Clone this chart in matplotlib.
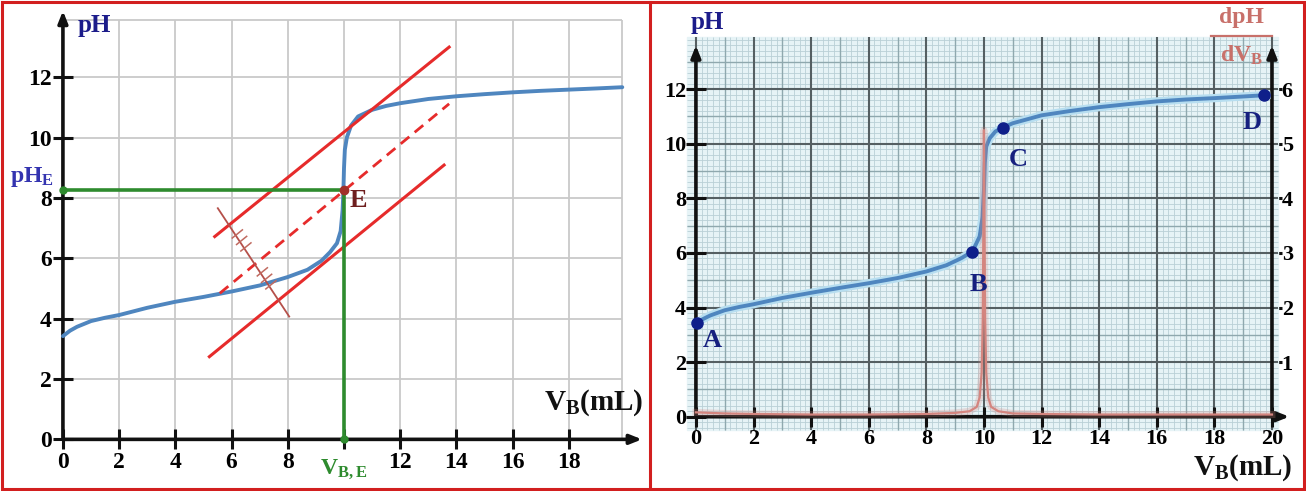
import numpy as np
import matplotlib
matplotlib.use('Agg')
import matplotlib.pyplot as plt
import matplotlib.patheffects as pe
from matplotlib.patches import Rectangle
from matplotlib.lines import Line2D

plt.rcParams['font.family'] = 'Liberation Serif'
plt.rcParams['font.weight'] = 'bold'
plt.rcParams['mathtext.fontset'] = 'custom'
plt.rcParams['mathtext.rm'] = 'Liberation Serif:bold'
plt.rcParams['mathtext.bf'] = 'Liberation Serif:bold'
plt.rcParams['mathtext.it'] = 'Liberation Serif:bold'

# ---- left panel : parallel tangents method ----
vb_left = [0, 0.25, 0.5, 1, 1.5, 2, 3, 4, 5, 6, 7, 8, 8.7, 9.2, 9.5, 9.75,
           9.88, 9.95, 9.98, 10.0, 10.03, 10.1, 10.25, 10.5, 11, 11.5, 12, 13,
           14, 15, 16, 17, 18, 19, 19.9]
ph_left = [3.42, 3.6, 3.73, 3.92, 4.03, 4.12, 4.36, 4.56, 4.72, 4.9, 5.1,
           5.38, 5.62, 5.92, 6.2, 6.5, 6.9, 7.6, 8.3, 9.0, 9.6, 10.0, 10.4,
           10.7, 10.92, 11.05, 11.14, 11.28, 11.37, 11.44, 11.5, 11.55, 11.59,
           11.63, 11.67]

# tangent lines (start / end points read on the picture)
tan_up_x, tan_up_y = [5.4, 13.74], [6.72, 13.0]
tan_mid_x, tan_mid_y = [5.58, 13.74], [4.84, 11.12]
tan_low_x, tan_low_y = [5.21, 13.56], [2.74, 9.09]
perp_x, perp_y = [5.51, 8.05], [7.66, 4.07]
hatch_t = [0.25, 0.31, 0.37, 0.6, 0.66, 0.72]   # equal-length marks on the perpendicular

vb_E, ph_E = 10.0, 8.25

# ---- right panel : curve and derivative ----
vb_right = [0, 0.25, 0.5, 1, 1.5, 2, 3, 4, 5, 6, 7, 8, 8.7, 9.2, 9.6, 9.85,
            9.95, 10.0, 10.03, 10.08, 10.2, 10.4, 10.67, 11, 12, 13, 14, 15,
            16, 17, 18, 19, 19.8]
ph_right = [3.42, 3.58, 3.71, 3.9, 4.02, 4.12, 4.35, 4.54, 4.72, 4.89, 5.08,
            5.32, 5.55, 5.8, 6.05, 6.6, 7.3, 8.3, 9.3, 9.9, 10.2, 10.45, 10.6,
            10.75, 11.04, 11.2, 11.34, 11.45, 11.55, 11.62, 11.67, 11.73, 11.78]

vb_deriv = [0, 1, 2, 4, 6, 8, 9, 9.5, 9.75, 9.85, 9.92, 9.96, 9.98, 10.0,
            10.02, 10.04, 10.08, 10.15, 10.25, 10.5, 11, 12, 14, 16, 18, 20]
dph_dv = [0.08, 0.06, 0.05, 0.04, 0.04, 0.05, 0.07, 0.1, 0.18, 0.35, 0.8,
          1.8, 3.5, 5.25, 3.5, 1.8, 0.8, 0.35, 0.18, 0.1, 0.06, 0.05, 0.04,
          0.04, 0.04, 0.04]

pt_labels = ['A', 'B', 'C', 'D']
pt_vb = [0.03, 9.58, 10.67, 19.74]
pt_ph = [3.42, 6.05, 10.57, 11.78]

xticks = np.arange(0, 19, 2)
xticks_r = np.arange(0, 21, 2)
yticks = np.arange(0, 13, 2)

RED = '#e62b2b'
GREEN = '#2e8b2e'
NAVY = '#1c1c8a'
BLUE = '#4f86bf'
ROSE = '#d4857f'
ARROW = dict(arrowstyle='-|>,head_length=0.7,head_width=0.28',
             lw=2.6, color='#111111', shrinkA=0, shrinkB=0)

fig = plt.figure(figsize=(13.06, 4.91), dpi=100)


def style_axes(ax, xmax_arrow, ymax_arrow):
    for s in ax.spines.values():
        s.set_visible(False)
    ax.spines['left'].set_position(('data', 0))
    ax.spines['bottom'].set_position(('data', 0))
    ax.tick_params(direction='inout', length=14, width=2.2, color='#111111')
    ax.annotate('', xy=(xmax_arrow, 0), xytext=(0, 0), arrowprops=ARROW)
    ax.annotate('', xy=(0, ymax_arrow), xytext=(0, 0), arrowprops=ARROW)


# ================= left panel =================
ax = fig.add_axes([0.0159, 0.013, 0.4778, 0.9833])
ax.set_xlim(-1.5, 20.7)
ax.set_ylim(-1.5, 14.5)
ax.patch.set_alpha(0)

ax.vlines(np.append(xticks, 19.9), 0, 13.9, color='#c9c9c9', lw=1.3, zorder=1)
ax.hlines(np.append(yticks[1:], 13.9), 0, 19.9, color='#c9c9c9', lw=1.3, zorder=1)

ax.plot(vb_left, ph_left, color=BLUE, lw=2.8, zorder=4,
        solid_capstyle='round')

ax.plot(tan_up_x, tan_up_y, color=RED, lw=2.2, zorder=5)
ax.plot(tan_low_x, tan_low_y, color=RED, lw=2.2, zorder=5)
ax.plot(tan_mid_x, tan_mid_y, color=RED, lw=2.0, ls=(0, (4, 2.5)), zorder=5)
ax.plot(perp_x, perp_y, color='#b5504a', lw=1.3, zorder=5)

# equal segment marks on the perpendicular
dx, dy = perp_x[1] - perp_x[0], perp_y[1] - perp_y[0]
sx, sy = tan_up_x[1] - tan_up_x[0], tan_up_y[1] - tan_up_y[0]
n = np.hypot(sx, sy)
for t in hatch_t:
    cx, cy = perp_x[0] + t * dx, perp_y[0] + t * dy
    ax.plot([cx - 0.15 * sx / n, cx + 0.3 * sx / n],
            [cy - 0.15 * sy / n, cy + 0.3 * sy / n],
            color='#c06a60', lw=1.1, zorder=5)

ax.plot([0, vb_E], [ph_E, ph_E], color=GREEN, lw=2.6, zorder=6)
ax.plot([vb_E, vb_E], [ph_E, 0], color=GREEN, lw=2.6, zorder=6)
ax.plot([0, vb_E], [ph_E, 0], 'o', color=GREEN, ms=5, zorder=7, clip_on=False)
ax.plot(vb_E, ph_E, 'o', color='#a0302a', ms=6, zorder=8)

style_axes(ax, 20.6, 14.2)
ax.set_xticks(xticks_r[:-1])
ax.set_xticklabels([str(v) if v != 10 else '' for v in xticks_r[:-1]])
ax.set_yticks(yticks)
ax.tick_params(axis='both', labelsize=17, pad=2)
ax.tick_params(axis='y', pad=1)

ax.text(1.1, 13.7, 'pH', color=NAVY, fontsize=18, ha='center', va='center')
ax.text(18.9, 1.2, r'$\mathbf{V}_{\mathbf{B}}\mathbf{(mL)}$', fontsize=21,
        ha='center', va='center', color='#111111')
ax.text(-1.1, 8.7, r'$\mathbf{pH}_{\mathbf{E}}$', fontsize=17, color='#3434b0',
        ha='center', va='center')
ax.text(10.0, -1.0, r'$\mathbf{V}_{\mathbf{B,E}}$', fontsize=17, color=GREEN,
        ha='center', va='center')
ax.text(10.5, 7.9, 'E', fontsize=19, color='#6e1e1e', ha='center', va='center',
        zorder=9)

# ================= right panel =================
axr = fig.add_axes([0.5064, 0.0123, 0.4896, 0.9841])
axr.set_xlim(-1.2, 21.0)
axr.set_ylim(-2.5, 15.2)
axr.patch.set_alpha(0)

# right scale (dpH/dVB) : half of the pH scale
ax2 = axr.twinx()
ax2.set_position(axr.get_position())
ax2.set_ylim(-2.5 / 2, 15.2 / 2)
for s in ax2.spines.values():
    s.set_visible(False)
ax2.spines['right'].set_position(('data', 20))
ax2.set_yticks(np.arange(1, 7))
ax2.tick_params(axis='y', direction='inout', length=14, width=2.2,
                labelsize=16, pad=0, color='#111111')
axr.set_zorder(ax2.get_zorder() + 1)

gx0, gx1, gy0, gy1 = -0.3, 20.2, -0.5, 13.9
axr.add_patch(Rectangle((gx0, gy0), gx1 - gx0, gy1 - gy0, color='#e6f3f6',
                        zorder=0))
axr.vlines(np.arange(0, 20.01, 0.2), gy0, gy1, color='#b9d0d6', lw=0.6, zorder=1)
axr.hlines(np.arange(-0.4, 13.81, 0.2), gx0, gx1, color='#b9d0d6', lw=0.6, zorder=1)
axr.vlines(np.arange(1, 20, 2), gy0, gy1, color='#8fa8ae', lw=1.0, zorder=1)
axr.hlines(np.arange(1, 14, 2), gx0, gx1, color='#8fa8ae', lw=1.0, zorder=1)
axr.vlines(xticks_r, gy0, gy1, color='#555f62', lw=1.5, zorder=1)
axr.hlines(yticks, gx0, gx1, color='#555f62', lw=1.5, zorder=1)

axr.plot(vb_right, ph_right, color=BLUE, lw=2.8, zorder=4,
         path_effects=[pe.Stroke(linewidth=6, foreground='#b7def0'), pe.Normal()])

# derivative drawn in the right-scale coordinates, above the pH curve
axr.plot(vb_deriv, dph_dv, color=ROSE, lw=5, alpha=0.25, zorder=5,
         transform=ax2.transData)
axr.plot(vb_deriv, dph_dv, color=ROSE, lw=1.6, zorder=5,
         transform=ax2.transData)

axr.plot(pt_vb, pt_ph, 'o', color='#0f1f8a', ms=8, zorder=6)

style_axes(axr, 20.6, 13.6)
axr.annotate('', xy=(20, 13.6), xytext=(20, 0), arrowprops=ARROW)
axr.set_xticks(xticks_r)
axr.set_yticks(yticks)
axr.tick_params(axis='both', labelsize=16, pad=2)
axr.tick_params(axis='y', pad=0)

for lab, x, y in zip(pt_labels, [0.58, 9.8, 11.18, 19.3], [2.81, 4.83, 9.41, 10.76]):
    axr.text(x, y, lab, fontsize=19, color='#16207f', ha='center', va='center',
             zorder=7)

axr.text(0.4, 14.45, 'pH', color=NAVY, fontsize=18, ha='center', va='center')
axr.text(18.95, 14.62, 'dpH', color='#c8706a', fontsize=17, ha='center',
         va='center')
axr.plot([17.9, 20.0], [13.96, 13.96], color='#c8706a', lw=1.6, clip_on=False)
axr.text(18.95, 13.25, r'$\mathbf{dV_B}$', color='#c8706a', fontsize=17,
         ha='center', va='center')
axr.text(19.0, -1.85, r'$\mathbf{V}_{\mathbf{B}}\mathbf{(mL)}$', fontsize=21,
         ha='center', va='center', color='#111111')

# red frames around the two panels
fig.add_artist(Rectangle((0.0015, 0.004), 0.997, 0.991, transform=fig.transFigure,
                         fill=False, ec='#d21f1f', lw=2.2))
fig.add_artist(Line2D([0.4977, 0.4977], [0.004, 0.995], transform=fig.transFigure,
                      color='#d21f1f', lw=2.2))

fig.savefig('out.png', dpi=100)
